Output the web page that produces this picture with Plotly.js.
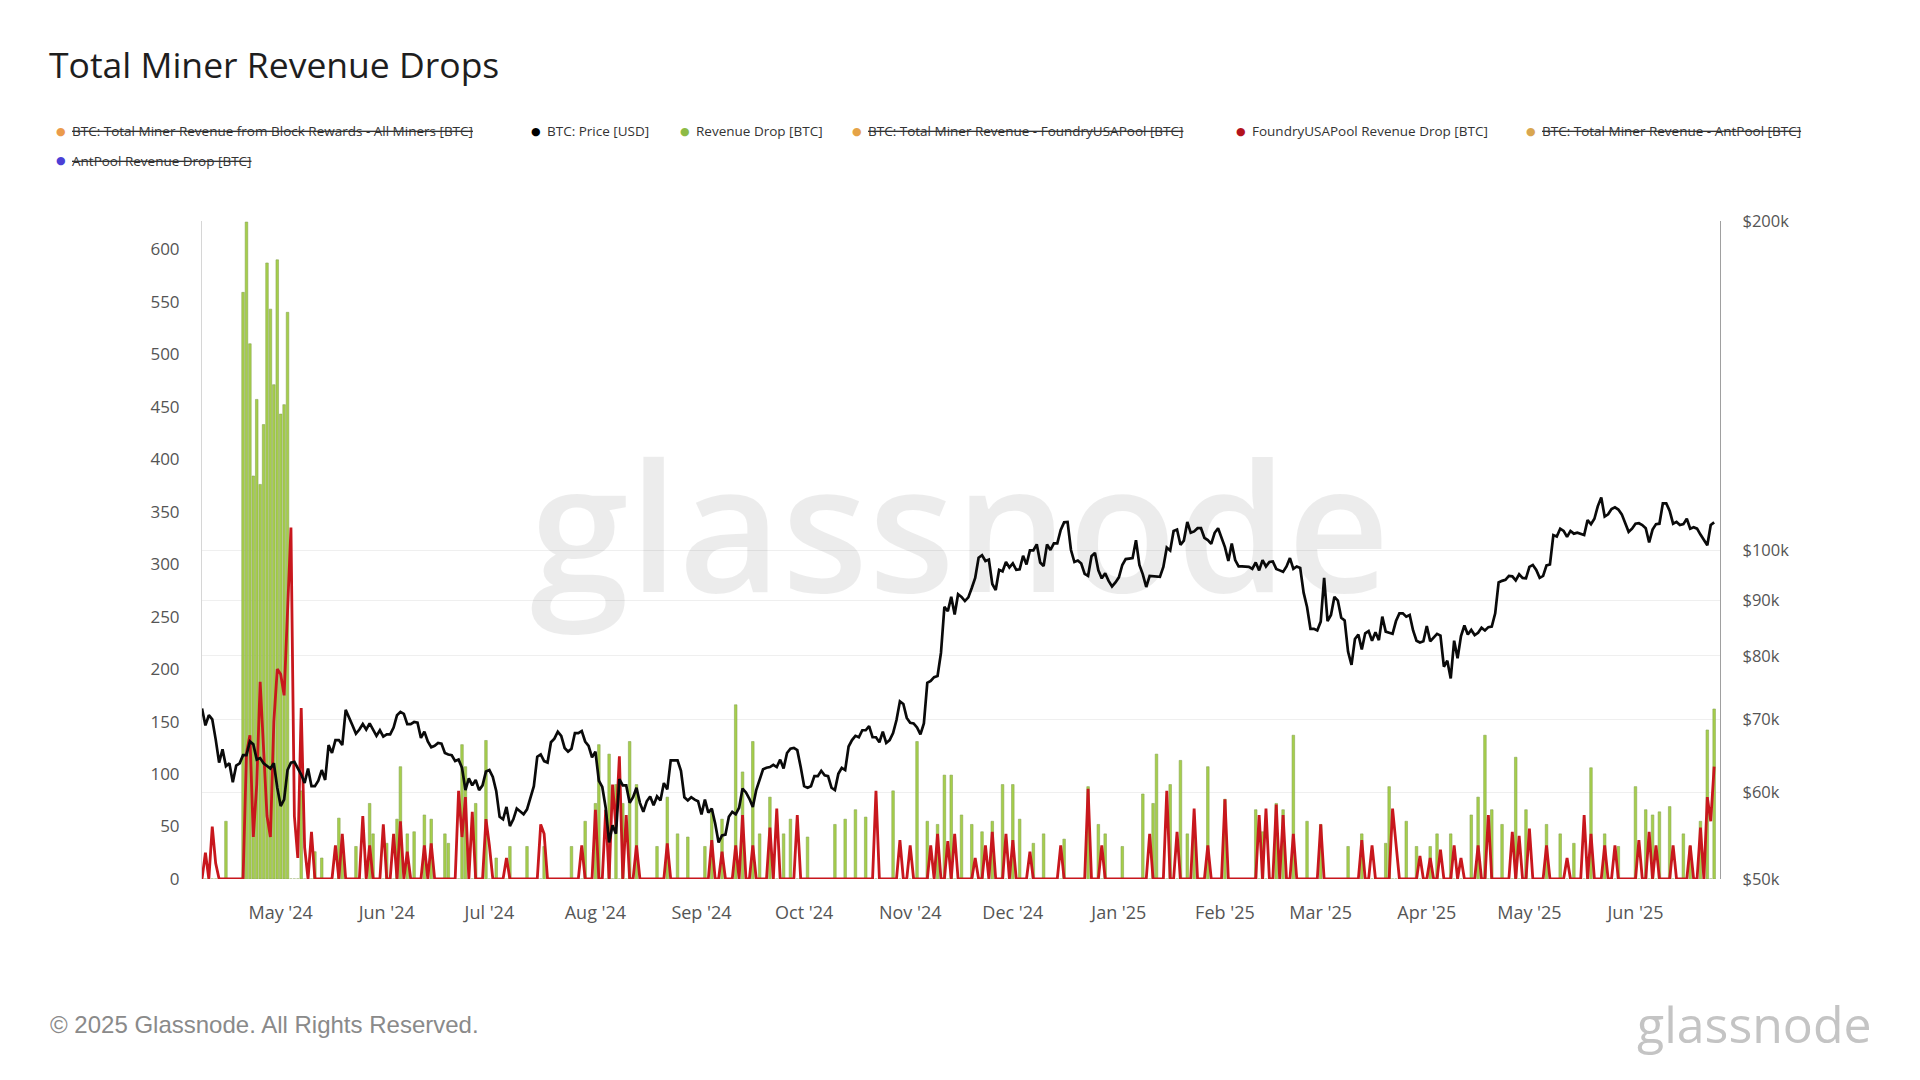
<!DOCTYPE html>
<html><head><meta charset="utf-8">
<script src="https://cdn.plot.ly/plotly-3.0.1.min.js"></script>
<style>html,body{margin:0;padding:0;background:#fff;}#chart{width:1920px;height:1080px;}</style>
</head><body><div id="chart"></div>
<script>
// ---- DATA (daily, 2024-04-08 .. 2025-06-24) ----
const firstDay = '2024-04-08';

// BTC price, thousands of USD, one array per month
const price2404 = [71.6,69.1,70.6,70.0,67.1,63.9,65.7,63.4,63.8,61.3,63.5,63.8,64.9,64.9,66.8,66.4,64.3,64.5,63.8,63.4,63.1,63.8,60.6];
const price2405 = [58.3,59.1,62.9,63.9,64.0,63.2,62.3,61.2,63.1,60.8,60.8,61.5,62.9,61.6,66.3,65.2,67.0,67.0,66.3,71.4,70.1,69.1,67.9,68.5,69.3,68.5,69.4,68.4,67.6,68.4,67.5];
const price2406 = [67.8,67.8,68.8,70.6,71.1,70.8,69.3,69.3,69.6,69.5,67.3,68.2,66.8,66.0,66.2,66.6,66.5,65.2,65.0,64.9,64.1,64.3,63.2,60.3,61.8,60.9,61.6,60.3,60.9,62.7];
const price2407 = [62.9,62.0,60.2,57.0,56.7,58.2,55.9,56.7,58.0,57.7,57.3,57.9,59.2,60.8,64.7,65.0,64.1,63.9,66.7,67.2,68.2,67.6,65.9,65.4,65.8,68.0,68.0,68.3,66.8,66.2,64.6];
const price2408 = [65.4,61.5,60.7,58.1,54.0,56.0,55.0,61.7,60.9,60.9,58.7,59.4,60.6,58.7,57.6,58.9,59.5,58.4,59.5,59.0,61.2,60.4,64.2,64.2,64.2,62.8,59.4,59.0,59.4,59.1,58.9];
const price2409 = [57.3,59.1,57.5,58.0,56.2,54.0,54.8,54.9,57.0,57.6,57.3,58.1,60.5,60.0,59.2,58.2,60.3,61.8,63.0,63.2,63.3,63.6,63.3,64.3,63.1,65.2,65.8,65.9,65.6,63.3];
const price2410 = [60.8,60.6,60.8,62.1,62.1,62.8,62.2,62.1,60.6,60.3,62.4,63.2,62.9,66.1,67.0,67.6,67.4,68.4,68.4,69.0,67.4,67.4,66.7,68.2,66.6,67.0,68.0,69.9,72.7,72.3,70.2];
const price2411 = [69.5,69.4,68.8,67.8,69.4,75.6,75.9,76.5,76.7,80.5,88.7,87.9,90.6,87.3,91.1,90.6,89.8,90.5,92.3,94.3,98.4,98.9,97.7,98.0,93.1,91.9,95.9,95.6,97.5,96.4];
const price2412 = [97.2,95.9,96.0,98.8,97.0,99.9,99.9,101.2,97.4,96.7,101.2,100.0,101.4,101.4,104.3,106.0,106.1,100.0,97.5,97.8,97.2,95.1,94.7,98.7,99.4,95.8,94.2,95.2,93.7,92.6,93.4];
const price2501 = [94.4,96.9,98.1,98.2,98.3,102.1,96.9,95.0,92.5,94.7,94.6,94.5,94.5,96.5,100.5,99.9,104.1,104.4,101.1,102.0,106.1,103.7,104.0,104.7,104.7,102.6,102.1,101.3,103.7,104.7,102.4];
const price2502 = [100.6,97.7,101.4,97.9,96.6,96.6,96.5,96.5,96.1,97.4,95.8,97.9,96.6,97.5,97.6,96.1,95.8,95.5,96.6,98.3,96.1,96.6,96.3,91.4,88.7,84.7,84.7,84.4];
const price2503 = [86.0,94.3,86.1,87.2,90.6,89.9,86.7,86.2,80.7,78.5,82.9,83.7,81.1,83.9,84.3,82.6,84.1,82.7,86.9,84.2,84.0,83.8,86.1,87.5,87.5,86.9,87.2,84.4,82.6,82.3,82.5];
const price2504 = [85.2,82.5,83.1,83.8,83.5,78.2,79.2,76.3,82.6,79.6,83.4,85.3,83.7,84.5,83.6,84.0,84.9,84.4,85.0,85.1,87.5,93.4,93.7,93.9,94.7,94.6,93.8,95.0,94.3,94.2];
const price2505 = [96.5,96.9,95.9,94.3,94.7,96.8,97.0,103.2,102.9,104.6,104.1,102.8,104.1,103.5,103.7,103.5,103.2,106.5,105.6,106.8,109.7,111.7,107.3,107.8,109.0,109.4,108.9,107.8,105.6,103.9,104.6];
const price2506 = [105.7,105.8,105.4,104.7,101.6,104.4,105.6,105.7,110.3,110.3,108.6,105.7,106.1,105.4,105.6,106.8,104.6,104.9,104.6,103.3,102.1,101.0,105.4,106.0];

// Revenue Drop [BTC] (all miners), per month
const drop2404 = [0,0,0,0,0,0,0,55,0,0,0,0,559,626,510,384,457,376,433,587,543,471,590];
const drop2405 = [443,452,540,0,0,0,84,0,0,0,26,0,20,0,0,0,0,58,31,0,0,0,31,0,0,0,72,43,0,0,0];
const drop2406 = [34,0,0,57,107,0,43,0,45,0,0,61,0,57,0,0,0,43,34,0,0,0,128,107,0,0,72,0,0,132];
const drop2407 = [0,0,20,0,0,0,31,0,0,0,0,31,0,0,0,0,31,0,0,0,0,0,0,0,31,0,0,0,55,0,0];
const drop2408 = [72,128,0,0,119,0,90,0,72,0,131,0,90,0,0,0,0,0,31,0,0,78,0,0,43,0,0,40,0,0,0];
const drop2409 = [0,31,0,66,0,0,57,0,0,0,166,0,102,0,0,131,0,43,0,0,78,0,0,0,43,0,57,0,0,0];
const drop2410 = [0,40,0,0,0,0,0,0,0,52,0,0,57,0,0,66,0,0,59,0,0,0,0,0,0,0,84,0,0,0,0];
const drop2411 = [0,0,131,0,0,55,0,0,52,0,99,0,99,0,0,61,0,0,52,0,0,45,0,0,55,0,0,90,0,0];
const drop2412 = [90,0,57,0,0,0,34,0,0,43,0,0,0,0,0,38,0,0,0,0,0,0,88,0,0,52,0,43,0,0,0];
const drop2501 = [0,31,0,0,0,0,0,81,0,0,72,119,0,0,0,90,0,0,113,0,43,0,43,0,0,0,107,0,0,0,0];
const drop2502 = [76,0,0,0,0,0,0,0,0,66,0,45,0,0,0,72,0,66,0,0,137,0,0,0,55,0,0,0];
const drop2503 = [52,0,0,0,0,0,0,0,31,0,0,0,43,0,0,0,0,0,0,34,88,0,0,0,0,55,0,0,31,0,0];
const drop2504 = [0,31,0,43,0,0,0,43,0,0,0,0,0,61,0,78,0,137,0,66,0,0,52,0,0,0,116,0,0,66];
const drop2505 = [0,0,0,0,0,52,0,0,0,43,0,0,0,34,0,0,0,0,106,0,0,0,43,0,0,0,31,0,0,0,0];
const drop2506 = [88,0,0,66,0,61,0,64,0,0,69,0,0,0,43,0,31,0,0,55,0,142,0,162];

// FoundryUSAPool Revenue Drop [BTC], per month
const fdry2404 = [0,25,0,50,15,0,0,0,0,0,0,0,0,120,137,40,90,188,130,60,40,150,200];
const fdry2405 = [195,175,250,335,60,20,163,30,0,45,0,0,0,0,0,0,32,0,43,0,0,0,0,0,60,0,32,0,0,0,52];
const fdry2406 = [0,0,43,0,55,0,26,0,0,0,0,32,0,34,0,0,0,0,0,0,0,84,40,78,0,64,0,0,0,57];
const fdry2407 = [32,0,0,0,0,20,0,0,0,0,0,0,0,0,0,52,43,0,0,0,0,0,0,0,0,0,0,32,0,0,0];
const fdry2408 = [66,0,0,66,0,90,50,117,0,61,0,0,32,0,0,0,0,0,0,0,0,34,0,0,0,0,0,0,0,0,0];
const fdry2409 = [0,0,0,37,0,0,26,0,0,0,32,0,61,0,0,32,0,0,0,0,49,0,67,0,0,0,0,0,61,0];
const fdry2410 = [0,0,0,0,0,0,0,0,0,0,0,0,0,0,0,0,0,0,0,0,0,84,0,0,0,0,0,0,37,0,0];
const fdry2411 = [32,0,0,0,0,0,32,0,43,0,0,36,0,43,0,0,0,0,0,20,0,0,32,0,45,0,0,0,43,0];
const fdry2412 = [37,0,0,0,0,26,0,0,0,0,0,0,0,0,32,0,0,0,0,0,0,0,86,0,0,0,32,0,0,0,0];
const fdry2501 = [0,0,0,0,0,0,0,0,0,43,0,0,0,0,84,0,0,45,0,0,0,0,67,0,0,0,32,0,0,0,0];
const fdry2502 = [76,0,0,0,0,0,0,0,0,0,61,0,67,0,0,71,0,61,0,0,43,0,0,0,0,0,0,0];
const fdry2503 = [52,0,0,0,0,0,0,0,0,0,0,0,37,0,0,32,0,0,0,0,0,67,34,0,0,0,0,0,0,22,0];
const fdry2504 = [0,20,0,0,28,0,0,0,32,0,20,0,0,0,0,32,0,0,61,0,0,0,0,0,0,45,0,41,0,0];
const fdry2505 = [48,0,0,0,0,32,0,0,0,0,0,20,0,0,0,0,61,0,43,0,0,0,32,0,0,32,0,0,0,0,0];
const fdry2506 = [0,37,0,0,45,0,32,0,0,0,0,32,0,0,0,0,32,0,0,49,0,78,55,107];

const yLeftTicks = [0,50,100,150,200,250,300,350,400,450,500,550,600];
const yRightTicks = [50000,60000,70000,80000,90000,100000,200000];
const yRightLabels = ['$50k','$60k','$70k','$80k','$90k','$100k','$200k'];

const legendItems = [
  {name:'BTC: Total Miner Revenue from Block Rewards - All Miners [BTC]', color:'#eb9b4b', off:true},
  {name:'BTC: Price [USD]', color:'#000000', off:false},
  {name:'Revenue Drop [BTC]', color:'#8dbb45', off:false},
  {name:'BTC: Total Miner Revenue - FoundryUSAPool [BTC]', color:'#e5a347', off:true},
  {name:'FoundryUSAPool Revenue Drop [BTC]', color:'#b3121c', off:false},
  {name:'BTC: Total Miner Revenue - AntPool [BTC]', color:'#d9a64f', off:true},
  {name:'AntPool Revenue Drop [BTC]', color:'#4b3fd6', off:true}
];

// ---- BUILD ----
const priceK = [].concat(price2404,price2405,price2406,price2407,price2408,price2409,price2410,price2411,price2412,price2501,price2502,price2503,price2504,price2505,price2506);
const revenueDrop = [].concat(drop2404,drop2405,drop2406,drop2407,drop2408,drop2409,drop2410,drop2411,drop2412,drop2501,drop2502,drop2503,drop2504,drop2505,drop2506);
const foundryDrop = [].concat(fdry2404,fdry2405,fdry2406,fdry2407,fdry2408,fdry2409,fdry2410,fdry2411,fdry2412,fdry2501,fdry2502,fdry2503,fdry2504,fdry2505,fdry2506);
const priceUSD = priceK.map(v => v * 1000);
const dates = [];
const d0 = new Date(firstDay + 'T00:00:00Z');
for (let i = 0; i < priceK.length; i++) {
  dates.push(new Date(d0.getTime() + i * 86400000).toISOString().slice(0, 10));
}

const W = 1920, H = 1080, L = 202, R = 1720, T = 221, B = 879;
const px = x => (x - L) / (R - L);
const py = y => (B - y) / (B - T);

const traces = [
  {type:'bar', x:dates, y:revenueDrop, name:'Revenue Drop [BTC]', yaxis:'y',
   marker:{color:'#a6cf4a', line:{color:'#8aa656', width:0.6}}, showlegend:false},
  {type:'scatter', mode:'lines', x:dates, y:foundryDrop, name:'FoundryUSAPool Revenue Drop [BTC]', yaxis:'y',
   line:{color:'#c8171d', width:2.8}, showlegend:false},
  {type:'scatter', mode:'lines', x:dates, y:priceUSD, name:'BTC: Price [USD]', yaxis:'y2',
   line:{color:'#0a0a0a', width:2.7}, showlegend:false}
];

const annotations = [];
annotations.push({text:'Total Miner Revenue Drops', xref:'paper', yref:'paper', x:px(47), y:py(64),
  xanchor:'left', yanchor:'middle', showarrow:false, font:{family:'Open Sans', size:35.5, color:'#1e1e1e'}});
// watermark
annotations.push({text:'glassnode', xref:'paper', yref:'paper', x:px(960), y:py(523),
  xanchor:'center', yanchor:'middle', showarrow:false, font:{family:'Open Sans', size:178, weight:600, color:'rgba(0,0,0,0.075)'}});
// footer
annotations.push({text:'© 2025 Glassnode. All Rights Reserved.', xref:'paper', yref:'paper', x:px(48), y:py(1024),
  xanchor:'left', yanchor:'middle', showarrow:false, font:{family:'Liberation Sans', size:24, color:'#8a8a8a'}});
annotations.push({text:'glassnode', xref:'paper', yref:'paper', x:px(1874), y:py(1024),
  xanchor:'right', yanchor:'middle', showarrow:false, font:{family:'Open Sans', size:50, weight:500, color:'#c4c4c4'}});

// legend
const legendPos = [[61,131],[536,131],[685,131],[857,131],[1241,131],[1531,131],[61,161]];
legendItems.forEach((it, k) => {
  const [lx, ly] = legendPos[k];
  annotations.push({text:'●', xref:'paper', yref:'paper', x:px(lx), y:py(ly), xanchor:'center', yanchor:'middle',
    showarrow:false, font:{family:'DejaVu Sans', size:11, color:it.color}});
  annotations.push({text: it.off ? '<s>' + it.name + '</s>' : it.name, xref:'paper', yref:'paper',
    x:px(lx + 9), y:py(ly), xanchor:'left', yanchor:'middle', showarrow:false,
    font:{family:'Open Sans', size:13.5, color:'#333'}});
});

const layout = {
  width:W, height:H, paper_bgcolor:'#fff', plot_bgcolor:'#fff',
  margin:{l:L, r:W - R, t:T, b:H - B, pad:0},
  showlegend:false, bargap:0.25,
  xaxis:{type:'date', range:['2024-04-08 00:00','2025-06-25 17:00'], dtick:'M1', tick0:'2024-05-01',
    tickformat:"%b '%y", showgrid:false, zeroline:false, showline:false,
    ticks:'outside', ticklen:17, tickcolor:'rgba(0,0,0,0)',
    tickfont:{family:'Open Sans', size:18, color:'#555'}},
  yaxis:{range:[0,627], tickvals:yLeftTicks, showgrid:false, zeroline:false,
    showline:true, linecolor:'#d6d6d6', linewidth:1,
    ticks:'outside', ticklen:18, tickcolor:'rgba(0,0,0,0)',
    tickfont:{family:'Open Sans', size:17, color:'#555'}},
  yaxis2:{type:'log', overlaying:'y', side:'right', range:[Math.log10(50000), Math.log10(200000)],
    tickvals:yRightTicks, ticktext:yRightLabels, showgrid:true, gridcolor:'#efefef', gridwidth:1,
    zeroline:false, showline:true, linecolor:'#a0a0a0', linewidth:1.2,
    ticks:'outside', ticklen:18, tickcolor:'rgba(0,0,0,0)',
    tickfont:{family:'Open Sans', size:16.5, color:'#555'}},
  annotations:annotations
};

Plotly.newPlot('chart', traces, layout, {displayModeBar:false, staticPlot:true});
</script></body></html>
